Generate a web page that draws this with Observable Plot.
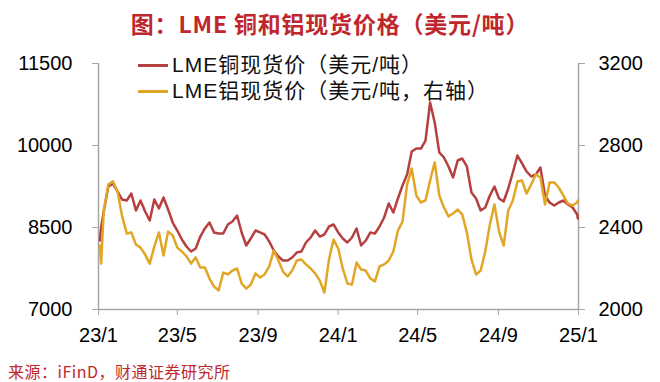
<!DOCTYPE html>
<html><head><meta charset="utf-8">
<script src="https://cdn.jsdelivr.net/npm/d3@7"></script>
<script src="https://cdn.jsdelivr.net/npm/@observablehq/plot@0.6"></script>
<style>
body{margin:0;background:#fff;}
#wrap{position:relative;width:660px;height:382px;overflow:hidden;background:#fff;}
#chart{position:absolute;left:0;top:0;}
.abs{position:absolute;white-space:nowrap;}
#title{left:0;width:660px;top:8px;text-align:center;font:bold 23px "Noto Sans CJK SC",sans-serif;color:#c0272d;line-height:30px;letter-spacing:0.8px;}
.leg{font:21px "Liberation Sans","Noto Sans CJK SC",sans-serif;color:#111;line-height:26px;letter-spacing:1px;}
.sw{position:absolute;height:2.5px;width:30px;}
#cap{left:8px;top:360px;font:16px "Noto Sans CJK SC",sans-serif;color:#c0272d;line-height:22px;letter-spacing:0.5px;}
</style>
</head><body>
<div id="wrap">
  <div id="chart"></div>
  <div id="title" class="abs">图：LME 铜和铝现货价格（美元/吨）</div>
  <div class="sw" style="left:138px;top:64px;background:#b5403f"></div>
  <div class="abs leg" style="left:172px;top:52px">LME铜现货价（美元/吨）</div>
  <div class="sw" style="left:138px;top:90px;background:#e2a627"></div>
  <div class="abs leg" style="left:172px;top:78px">LME铝现货价（美元/吨，右轴）</div>
  <div id="cap" class="abs">来源：iFinD，财通证券研究所</div>
</div>
<script>
const dates = [
"2023-01-03","2023-01-05","2023-01-09","2023-01-16","2023-01-23","2023-01-30","2023-02-06","2023-02-13","2023-02-20","2023-02-27",
"2023-03-06","2023-03-13","2023-03-20","2023-03-27","2023-04-03","2023-04-10","2023-04-17","2023-04-24","2023-05-01","2023-05-08",
"2023-05-15","2023-05-22","2023-05-29","2023-06-05","2023-06-12","2023-06-19","2023-06-26","2023-07-03","2023-07-10","2023-07-17",
"2023-07-24","2023-07-31","2023-08-07","2023-08-14","2023-08-21","2023-08-28","2023-09-04","2023-09-11","2023-09-18","2023-09-25",
"2023-10-02","2023-10-09","2023-10-16","2023-10-23","2023-10-30","2023-11-06","2023-11-13","2023-11-20","2023-11-27","2023-12-04",
"2023-12-11","2023-12-18","2023-12-25",
"2024-01-01","2024-01-08","2024-01-15","2024-01-22","2024-01-29","2024-02-05","2024-02-12","2024-02-19","2024-02-26","2024-03-04",
"2024-03-11","2024-03-18","2024-03-25","2024-04-01","2024-04-08","2024-04-15","2024-04-22","2024-04-29","2024-05-06","2024-05-13",
"2024-05-20","2024-05-27","2024-06-03","2024-06-10","2024-06-17","2024-06-24","2024-07-01","2024-07-08","2024-07-15","2024-07-22",
"2024-07-29","2024-08-05","2024-08-12","2024-08-19","2024-08-26","2024-09-02","2024-09-09","2024-09-16","2024-09-23","2024-09-30",
"2024-10-07","2024-10-14","2024-10-21","2024-10-28","2024-11-04","2024-11-11","2024-11-18","2024-11-25","2024-12-02","2024-12-09",
"2024-12-16","2024-12-23","2024-12-30","2024-12-31"];

const copper = [
8262,8500,8793,9250,9300,9159,9012,8994,9122,8811,
8994,8793,8628,9012,8848,9049,8829,8591,8445,8281,
8152,8061,8116,8335,8482,8591,8409,8390,8390,8555,
8610,8720,8409,8171,8299,8445,8409,8372,8244,8079,
7970,7896,7896,7951,8043,8061,8226,8317,8445,8335,
8372,8518,8555,
8409,8299,8226,8317,8482,8171,8262,8409,8390,8518,
8683,8939,8774,9031,9268,9470,9890,9945,9945,10091,
10787,10421,9872,9781,9616,9415,9726,9762,9616,9140,
9031,8811,8866,9085,9250,9031,8976,9213,9506,9817,
9671,9524,9433,9470,9598,9085,8957,8902,8957,8994,
8921,8866,8738,8665];

const aluminum = [
2312,2224,2483,2610,2625,2576,2454,2371,2376,2317,
2302,2268,2224,2307,2376,2263,2380,2361,2302,2283,
2259,2224,2254,2205,2205,2151,2112,2093,2180,2171,
2190,2200,2127,2102,2122,2176,2156,2171,2210,2288,
2239,2185,2161,2190,2239,2244,2220,2200,2176,2141,
2083,2244,2341,
2298,2200,2127,2122,2229,2195,2190,2151,2137,2210,
2220,2239,2283,2385,2429,2610,2688,2556,2522,2532,
2629,2717,2556,2498,2454,2468,2488,2463,2376,2244,
2171,2190,2283,2415,2512,2380,2312,2483,2532,2624,
2629,2566,2610,2659,2644,2512,2620,2620,2595,2556,
2517,2507,2522,2532];

const leftTicks = [7000, 8500, 10000, 11500];
const rightTicks = [2000, 2400, 2800, 3200];
const xTickDates = ["2023-01-01","2023-05-01","2023-09-01","2024-01-01","2024-05-01","2024-09-01","2025-01-01"];
const xTickLabels = ["23/1","23/5","23/9","24/1","24/5","24/9","25/1"];

const leftDomain = [7000, 11500];
const rightDomain = [2000, 3200];
const toLeft = v => leftDomain[0] + (v - rightDomain[0]) * (leftDomain[1] - leftDomain[0]) / (rightDomain[1] - rightDomain[0]);
const toRight = v => rightDomain[0] + (v - leftDomain[0]) * (rightDomain[1] - rightDomain[0]) / (leftDomain[1] - leftDomain[0]);

const parse = d3.utcParse("%Y-%m-%d");
const cuData = dates.map((d, i) => ({date: parse(d), v: copper[i]}));
const alData = dates.map((d, i) => ({date: parse(d), v: toLeft(aluminum[i])}));
const xt = xTickDates.map(parse);
const xDomain = [xt[0], xt[xt.length - 1]];
const axisColor = "#a6a6a6";

const chart = Plot.plot({
  width: 660, height: 382,
  marginLeft: 98, marginRight: 82, marginTop: 63, marginBottom: 73,
  style: {fontFamily: "'Liberation Sans', Arial, sans-serif", fontSize: "20px", color: "#000", background: "transparent"},
  x: {type: "utc", domain: xDomain},
  y: {domain: leftDomain},
  marks: [
    Plot.ruleX([xDomain[0]], {stroke: axisColor, strokeWidth: 1.5}),
    Plot.ruleX([xDomain[1]], {stroke: axisColor, strokeWidth: 1.5}),
    Plot.ruleY([leftDomain[0]], {stroke: axisColor, strokeWidth: 1.5}),
    Plot.axisY({anchor: "left", ticks: leftTicks, tickSize: 6, tickPadding: 20, stroke: axisColor, fill: "#000", fontSize: 20, label: null, tickFormat: d => String(d)}),
    Plot.axisY({anchor: "right", ticks: rightTicks.map(toLeft), tickSize: 6, tickPadding: 14, stroke: axisColor, fill: "#000", fontSize: 20, label: null, tickFormat: d => String(Math.round(toRight(d)))}),
    Plot.axisX({ticks: xt, tickSize: 6, tickPadding: 12, stroke: axisColor, fill: "#000", fontSize: 20, label: null,
      tickFormat: d => xTickLabels[xt.findIndex(t => +t === +d)]}),
    Plot.line(cuData, {x: "date", y: "v", stroke: "#b5403f", strokeWidth: 2.5, curve: "linear"}),
    Plot.line(alData, {x: "date", y: "v", stroke: "#e2a627", strokeWidth: 2.5, curve: "linear"})
  ]
});
document.getElementById("chart").appendChild(chart);
</script>
</body></html>
